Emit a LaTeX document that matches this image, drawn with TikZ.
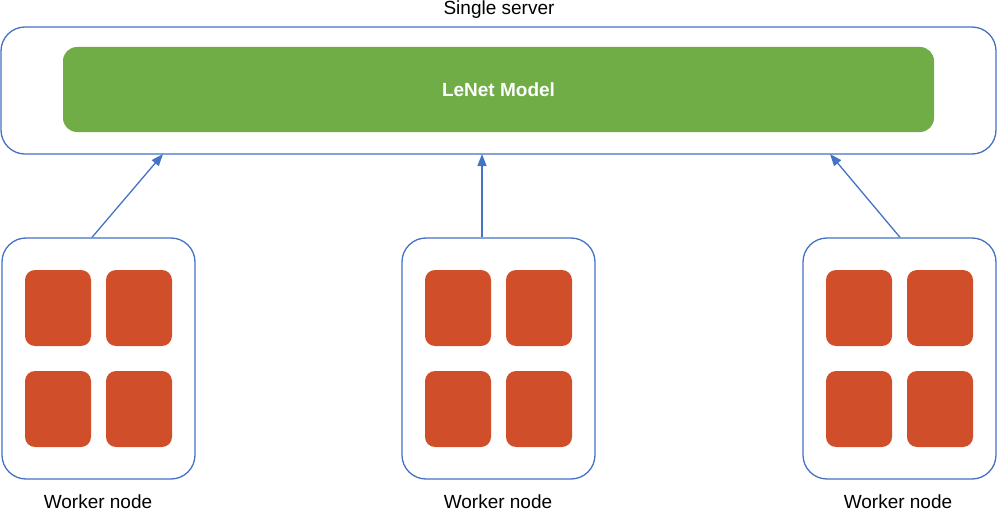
\documentclass[tikz,border=0pt]{standalone}
\usepackage{fontspec}
\setmainfont{Liberation Sans}
\usetikzlibrary{arrows.meta}
\begin{document}
\begin{tikzpicture}
		[x=1pt,y=-1pt,
		box/.style={draw=blueline,line width=1.3pt,rounded corners=24pt,
			inner sep=0pt,fill=white},
		core/.style={fill=coreorange,rounded corners=10pt,inner sep=0pt,
			minimum width=66pt,minimum height=76pt},
		label/.style={font=\fontsize{19}{23}\selectfont,inner sep=0pt},
		link/.style={draw=blueline,line width=1.3pt,
			-{Triangle[length=12pt,width=9pt]}}]
		\definecolor{blueline}{HTML}{4472C4}
		\definecolor{modelgreen}{HTML}{70AD47}
		\definecolor{coreorange}{HTML}{D04E29}
		\useasboundingbox (0,0) rectangle (997,511);
		% server
		\node[box,minimum width=995pt,minimum height=127pt] (server) at (498.5,90.5) {};
		\node[fill=modelgreen,rounded corners=14pt,inner sep=0pt,
			minimum width=871pt,minimum height=85pt,text=white,
			font=\bfseries\fontsize{19}{23}\selectfont] (model) at (498.5,89.5) {LeNet Model};
		\node[label] (servertitle) at (499,9.5) {Single server};
		% workers
		\node[box,minimum width=193pt,minimum height=241pt] (w1) at (98.5,358.5) {};
		\node[box,minimum width=193pt,minimum height=241pt] (w2) at (498.5,358.5) {};
		\node[box,minimum width=193pt,minimum height=241pt] (w3) at (899.5,358.5) {};
		\node[core] (w1a) at (58,308) {};
		\node[core] (w1b) at (139,308) {};
		\node[core] (w1c) at (58,409) {};
		\node[core] (w1d) at (139,409) {};
		\node[core] (w2a) at (458,308) {};
		\node[core] (w2b) at (539,308) {};
		\node[core] (w2c) at (458,409) {};
		\node[core] (w2d) at (539,409) {};
		\node[core] (w3a) at (859,308) {};
		\node[core] (w3b) at (940,308) {};
		\node[core] (w3c) at (859,409) {};
		\node[core] (w3d) at (940,409) {};
		\node[label] (w1label) at (98,501.5) {Worker node};
		\node[label] (w2label) at (498,501.5) {Worker node};
		\node[label] (w3label) at (898,501.5) {Worker node};
		% links
		\coordinate (s1) at (163,154);
		\coordinate (s2) at (482,154);
		\coordinate (s3) at (830,154);
		\draw[link] ([xshift=-6.5pt]w1.north) -- (s1);
		\draw[link] ([xshift=-16.5pt]w2.north) -- (s2);
		\draw[link] ([xshift=0.5pt]w3.north) -- (s3);
	\end{tikzpicture}
\end{document}
